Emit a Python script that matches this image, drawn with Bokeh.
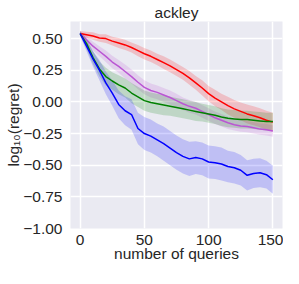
import numpy as np
from bokeh.plotting import figure
from bokeh.models import Range1d, FixedTicker, CustomJSTickFormatter
from bokeh.embed import file_html
from bokeh.resources import INLINE

# ---- data ----
queries = list(range(0, 151, 5))

red_mean = [0.54, 0.53, 0.52, 0.505, 0.50, 0.48, 0.465, 0.45, 0.43, 0.405, 0.38,
            0.36, 0.335, 0.31, 0.285, 0.255, 0.225, 0.19, 0.15, 0.11, 0.065,
            0.03, 0.0, -0.03, -0.055, -0.075, -0.095, -0.11, -0.125, -0.145, -0.16]
red_hw = [0.02, 0.025, 0.03, 0.03, 0.035, 0.035, 0.04, 0.04, 0.04, 0.045, 0.045,
          0.045, 0.045, 0.05, 0.05, 0.05, 0.05, 0.055, 0.055, 0.06, 0.06,
          0.065, 0.065, 0.07, 0.07, 0.07, 0.075, 0.075, 0.075, 0.075, 0.075]

violet_mean = [0.54, 0.49, 0.44, 0.40, 0.36, 0.315, 0.28, 0.24, 0.20, 0.155, 0.115,
               0.09, 0.075, 0.055, 0.035, 0.01, -0.015, -0.035, -0.05, -0.075, -0.10,
               -0.125, -0.145, -0.165, -0.18, -0.19, -0.195, -0.205, -0.215, -0.22, -0.23]
violet_hw = [0.02, 0.03, 0.035, 0.04, 0.045, 0.05, 0.05, 0.055, 0.055, 0.055, 0.055,
             0.055, 0.055, 0.055, 0.055, 0.055, 0.05, 0.05, 0.05, 0.05, 0.05,
             0.05, 0.05, 0.05, 0.045, 0.045, 0.045, 0.045, 0.045, 0.045, 0.045]

green_mean = [0.54, 0.46, 0.35, 0.26, 0.20, 0.165, 0.135, 0.11, 0.07, 0.04, 0.01,
              -0.005, -0.015, -0.025, -0.035, -0.045, -0.055, -0.065, -0.075, -0.085, -0.095,
              -0.105, -0.12, -0.13, -0.135, -0.14, -0.14, -0.145, -0.15, -0.155, -0.155]
green_hw = [0.02, 0.04, 0.05, 0.06, 0.07, 0.07, 0.075, 0.075, 0.08, 0.08, 0.08,
            0.08, 0.08, 0.08, 0.075, 0.075, 0.075, 0.075, 0.075, 0.07, 0.07,
            0.07, 0.07, 0.07, 0.07, 0.07, 0.07, 0.07, 0.07, 0.07, 0.07]

blue_mean = [0.54, 0.44, 0.34, 0.25, 0.15, 0.07, -0.02, -0.07, -0.10, -0.21, -0.25,
             -0.27, -0.30, -0.33, -0.365, -0.40, -0.43, -0.45, -0.44, -0.45, -0.475,
             -0.48, -0.49, -0.51, -0.52, -0.54, -0.58, -0.565, -0.56, -0.575, -0.615]
blue_hw = [0.02, 0.04, 0.06, 0.08, 0.09, 0.10, 0.11, 0.115, 0.12, 0.125, 0.13,
           0.13, 0.13, 0.135, 0.135, 0.135, 0.135, 0.135, 0.13, 0.13, 0.13,
           0.13, 0.13, 0.125, 0.125, 0.12, 0.12, 0.115, 0.115, 0.11, 0.11]

series = [
    ("red", "#FF0000", red_mean, red_hw),
    ("violet", "#BA55D3", violet_mean, violet_hw),
    ("green", "#008000", green_mean, green_hw),
    ("blue", "#0000FF", blue_mean, blue_hw),
]

x_ticks = [0, 50, 100, 150]
y_ticks = [-1.0, -0.75, -0.5, -0.25, 0.0, 0.25, 0.5]

FONT = "Liberation Sans"
FS = "15.5px"
TXT = "#262626"

p = figure(frame_width=212, frame_height=207, output_backend="svg", toolbar_location=None,
           x_range=Range1d(-7.5, 157.5), y_range=Range1d(-1.0, 0.635),
           min_border_left=70, min_border_right=1, min_border_top=0,
           min_border_bottom=40, title="ackley")
p.background_fill_color = "#EAEAF2"
p.border_fill_color = "white"
p.outline_line_color = None

p.title.align = "center"
p.title.text_font = FONT
p.title.text_font_size = FS
p.title.text_font_style = "normal"
p.title.text_color = TXT
p.title.standoff = 2
p.title.offset = 0

for name, col, mean, hw in series:
    m = np.array(mean)
    h = np.array(hw)
    p.varea(x=queries, y1=m - h, y2=m + h, fill_color=col, fill_alpha=0.18)
for name, col, mean, hw in series:
    p.line(queries, mean, line_color=col, line_width=1.5)

p.xaxis.ticker = FixedTicker(ticks=x_ticks)
p.yaxis.ticker = FixedTicker(ticks=y_ticks)
p.yaxis.formatter = CustomJSTickFormatter(
    code="return (tick < 0 ? '\u2212' : '') + Math.abs(tick).toFixed(2);")

for ax in (p.xaxis, p.yaxis):
    ax.axis_line_color = None
    ax.major_tick_line_color = None
    ax.minor_tick_line_color = None
    ax.major_tick_out = 0
    ax.minor_tick_out = 0
    ax.major_label_text_font = FONT
    ax.major_label_text_font_size = FS
    ax.major_label_text_color = TXT
    ax.axis_label_text_font = FONT
    ax.axis_label_text_font_size = FS
    ax.axis_label_text_color = TXT
    ax.axis_label_text_font_style = "normal"

p.xaxis.major_label_standoff = 6
p.xaxis.axis_label_standoff = -3
p.yaxis.major_label_standoff = 8
p.yaxis.axis_label_standoff = -2

p.xaxis.axis_label = "number of queries"
p.yaxis.axis_label = "log\u2081\u2080(regret)"

p.grid.grid_line_color = "white"
p.grid.grid_line_width = 1.5

open("out.html", "w").write(file_html(p, INLINE))
